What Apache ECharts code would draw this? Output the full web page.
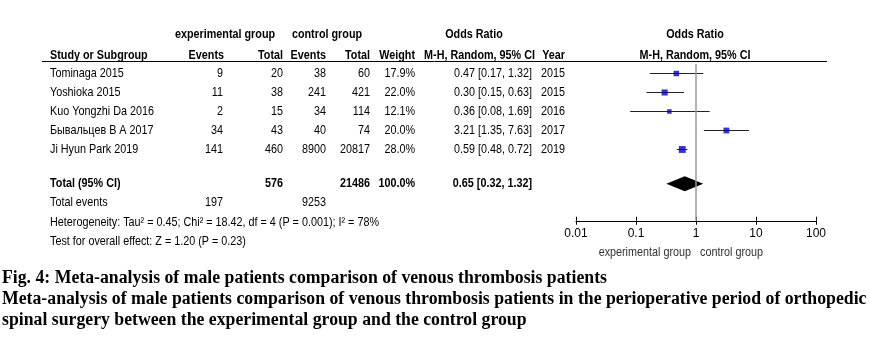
<!DOCTYPE html>
<html><head><meta charset="utf-8">
<script src="https://cdn.jsdelivr.net/npm/echarts@6/dist/echarts.min.js"></script>
<style>html,body{margin:0;padding:0;background:#fff}#c{width:870px;height:348px}</style>
</head><body><div id="c"></div>
<script>
// ---- data ----
const studies = ['Tominaga 2015', 'Yoshioka 2015', 'Kuo Yongzhi Da 2016', 'Бывальцев В А 2017', 'Ji Hyun Park 2019'];
const expEvents = [9, 11, 2, 34, 141];
const expTotal = [20, 38, 15, 43, 460];
const ctrlEvents = [38, 241, 34, 40, 8900];
const ctrlTotal = [60, 421, 114, 74, 20817];
const weights = [17.9, 22.0, 12.1, 20.0, 28.0];
const oddsRatio = [0.47, 0.30, 0.36, 3.21, 0.59];
const ciLow = [0.17, 0.15, 0.08, 1.35, 0.48];
const ciHigh = [1.32, 0.63, 1.69, 7.63, 0.72];
const years = [2015, 2015, 2016, 2017, 2019];
const totalExpN = 576, totalCtrlN = 21486, totalExpEvents = 197, totalCtrlEvents = 9253;
const totalWeight = 100.0;
const totalOR = [0.65, 0.32, 1.32];
const heterogeneityText = 'Heterogeneity: Tau² = 0.45; Chi² = 18.42, df = 4 (P = 0.001); I² = 78%';
const overallText = 'Test for overall effect: Z = 1.20 (P = 0.23)';
const tickLabels = ['0.01', '0.1', '1', '10', '100'];
const captionLines = [
  'Fig. 4: Meta-analysis of male patients comparison of venous thrombosis patients',
  'Meta-analysis of male patients comparison of venous thrombosis patients in the perioperative period of orthopedic',
  'spinal surgery between the experimental group and the control group'
];

// ---- chart ----
const SANS = '"Liberation Sans",Arial,sans-serif';
const SERIF = '"Liberation Serif","Times New Roman",serif';
const NARROW = 0.83;
const chart = echarts.init(document.getElementById('c'), null, {renderer: 'canvas'});
const n = studies.length;
const totalIdx = n + 0.8;

chart.setOption({
  animation: false,
  grid: {left: 576, right: 54, top: 64, bottom: 127.25, containLabel: false},
  xAxis: [{
    type: 'log', logBase: 10, min: 0.01, max: 100,
    axisLine: {onZero: false, lineStyle: {color: '#000', width: 1}},
    axisTick: {length: 4, lineStyle: {color: '#000'}},
    axisLabel: {margin: 7, color: '#000', fontFamily: SANS, fontSize: 12,
      formatter: v => tickLabels[Math.round(Math.log10(v)) + 2]},
    splitLine: {show: false}
  }, {
    type: 'log', logBase: 10, min: 0.01, max: 100, position: 'bottom',
    axisLine: {onZero: false, show: false},
    axisTick: {inside: true, length: 4, lineStyle: {color: '#000'}},
    axisLabel: {show: false}, splitLine: {show: false}
  }],
  yAxis: {type: 'value', inverse: true, min: -0.5, max: 7.75, show: false},
  series: [{
    type: 'custom',
    data: studies.map((s, i) => [ciLow[i], ciHigh[i], i]),
    encode: {x: [0, 1], y: 2},
    renderItem: (params, api) => {
      const a = api.coord([api.value(0), api.value(2)]);
      const b = api.coord([api.value(1), api.value(2)]);
      return {type: 'line', shape: {x1: a[0], y1: a[1], x2: b[0], y2: b[1]},
        style: {stroke: '#222', lineWidth: 1}};
    },
    z: 2
  }, {
    type: 'scatter',
    data: studies.map((s, i) => [oddsRatio[i], i, weights[i]]),
    symbol: 'rect',
    symbolSize: d => 1.3 * Math.sqrt(d[2]),
    itemStyle: {color: '#0000c8'},
    z: 3,
    markLine: {
      silent: true, symbol: 'none', label: {show: false},
      lineStyle: {color: '#999', width: 1.5, type: 'solid'},
      data: [{xAxis: 1}]
    }
  }, {
    type: 'custom',
    data: [[totalOR[1], totalOR[0], totalOR[2], totalIdx]],
    encode: {x: [0, 1, 2], y: 3},
    renderItem: (params, api) => {
      const y = api.value(3);
      const l = api.coord([api.value(0), y]);
      const c = api.coord([api.value(1), y]);
      const r = api.coord([api.value(2), y]);
      const h = 7.5;
      return {type: 'polygon', shape: {points: [[l[0], l[1]], [c[0], c[1] - h], [r[0], r[1]], [c[0], c[1] + h]]},
        style: {fill: '#000'}};
    },
    z: 4
  }]
});

// ---- table text ----
const rowY = i => chart.convertToPixel({yAxisIndex: 0}, i);
const g = [];
function txt(s, x, y, align, opts) {
  opts = opts || {};
  g.push({
    type: 'text', x: x, y: y, silent: true,
    scaleX: opts.scaleX || NARROW,
    style: {
      text: String(s), x: 0, y: 0, align: align || 'left', verticalAlign: 'middle',
      fontFamily: opts.family || SANS, fontSize: opts.size || 13,
      fontWeight: opts.bold ? 'bold' : 'normal', fill: opts.color || '#000'
    }
  });
}
const C = {study: 50, ee: 223, et: 283, ce: 326, ct: 370, w: 415, ci: 532, yr: 565};
// headers
txt('experimental group', 225, 34, 'center', {bold: true});
txt('control group', 327, 34, 'center', {bold: true});
txt('Odds Ratio', 474, 34, 'center', {bold: true});
txt('Odds Ratio', 695, 34, 'center', {bold: true});
txt('Study or Subgroup', C.study, 55, 'left', {bold: true});
txt('Events', C.ee + 1, 55, 'right', {bold: true});
txt('Total', C.et, 55, 'right', {bold: true});
txt('Events', C.ce, 55, 'right', {bold: true});
txt('Total', C.ct, 55, 'right', {bold: true});
txt('Weight', C.w, 55, 'right', {bold: true});
txt('M-H, Random, 95% CI', 535, 55, 'right', {bold: true});
txt('Year', C.yr, 55, 'right', {bold: true});
txt('M-H, Random, 95% CI', 695, 55, 'center', {bold: true});
g.push({type: 'line', silent: true, shape: {x1: 42, y1: 61.5, x2: 827, y2: 61.5}, style: {stroke: '#000', lineWidth: 1}});

const fmtCI = (o, l, h) => `${o.toFixed(2)} [${l.toFixed(2)}, ${h.toFixed(2)}]`;
studies.forEach((s, i) => {
  const y = rowY(i);
  txt(s, C.study, y, 'left');
  txt(expEvents[i], C.ee, y, 'right');
  txt(expTotal[i], C.et, y, 'right');
  txt(ctrlEvents[i], C.ce, y, 'right');
  txt(ctrlTotal[i], C.ct, y, 'right');
  txt(weights[i].toFixed(1) + '%', C.w, y, 'right');
  txt(fmtCI(oddsRatio[i], ciLow[i], ciHigh[i]), C.ci, y, 'right');
  txt(years[i], C.yr, y, 'right');
});
const ty = rowY(totalIdx);
txt('Total (95% CI)', C.study, ty, 'left', {bold: true});
txt(totalExpN, C.et, ty, 'right', {bold: true});
txt(totalCtrlN, C.ct, ty, 'right', {bold: true});
txt(totalWeight.toFixed(1) + '%', C.w, ty, 'right', {bold: true});
txt(fmtCI(totalOR[0], totalOR[1], totalOR[2]), C.ci, ty, 'right', {bold: true});
txt('Total events', C.study, 202, 'left');
txt(totalExpEvents, C.ee, 202, 'right');
txt(totalCtrlEvents, C.ce, 202, 'right');
txt(heterogeneityText, C.study, 222, 'left');
txt(overallText, C.study, 241, 'left');
txt('experimental group', 691, 252, 'right', {size: 13, color: '#333'});
txt('control group', 700, 252, 'left', {size: 13, color: '#333'});
captionLines.forEach((s, i) => txt(s, 2, 278 + i * 21, 'left', {family: SERIF, bold: true, size: 18, scaleX: 0.985}));

chart.setOption({graphic: g});
</script>
</body></html>
